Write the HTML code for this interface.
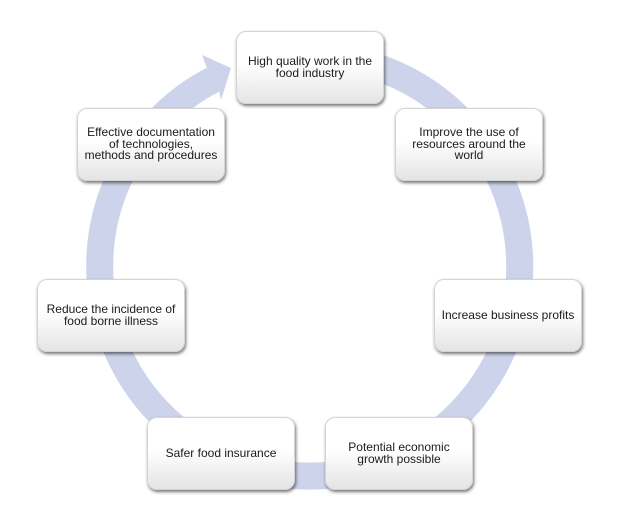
<!DOCTYPE html>
<html>
<head>
<meta charset="utf-8">
<style>
  html, body { margin:0; padding:0; background:#ffffff; }
  body { width:626px; height:519px; position:relative; overflow:hidden; font-family:"Liberation Sans", Arial, sans-serif; }
  svg.ring { position:absolute; left:0; top:0; }
  .box {
    position:absolute; width:148px; height:73px;
    border:1px solid #d4d4d4; border-radius:10px;
    background:linear-gradient(to bottom, #ffffff 0%, #ffffff 45%, #e4e4e4 100%);
    box-shadow: 1px 2px 3px rgba(0,0,0,0.55);
    display:flex; align-items:center; justify-content:center; text-align:center;
    font-size:12px; line-height:11.8px; color:#1a1a1a; box-sizing:border-box;
    padding:0 1px; white-space:nowrap;
  }
</style>
</head>
<body>
<svg class="ring" width="626" height="519" viewBox="0 0 626 519">
  <path d="M 255.6 63.2 A 210 210 0 1 1 213 79.7" fill="none" stroke="#ccd3ea" stroke-width="27"/>
  <polygon points="206.8,67.8 202,55 231,68 221,100 219.3,91.7" fill="#ccd3ea"/>
</svg>

<div class="box" style="left:236px; top:31px;">High quality work in the<br>food industry</div>
<div class="box" style="left:395px; top:108px;">Improve the use of<br>resources around the<br>world</div>
<div class="box" style="left:434px; top:279px;">Increase business profits</div>
<div class="box" style="left:325px; top:417px;">Potential economic<br>growth possible</div>
<div class="box" style="left:147px; top:417px;">Safer food insurance</div>
<div class="box" style="left:37px; top:279px;">Reduce the incidence of<br>food borne illness</div>
<div class="box" style="left:77px; top:108px;">Effective documentation<br>of technologies,<br>methods and procedures</div>
</body>
</html>
